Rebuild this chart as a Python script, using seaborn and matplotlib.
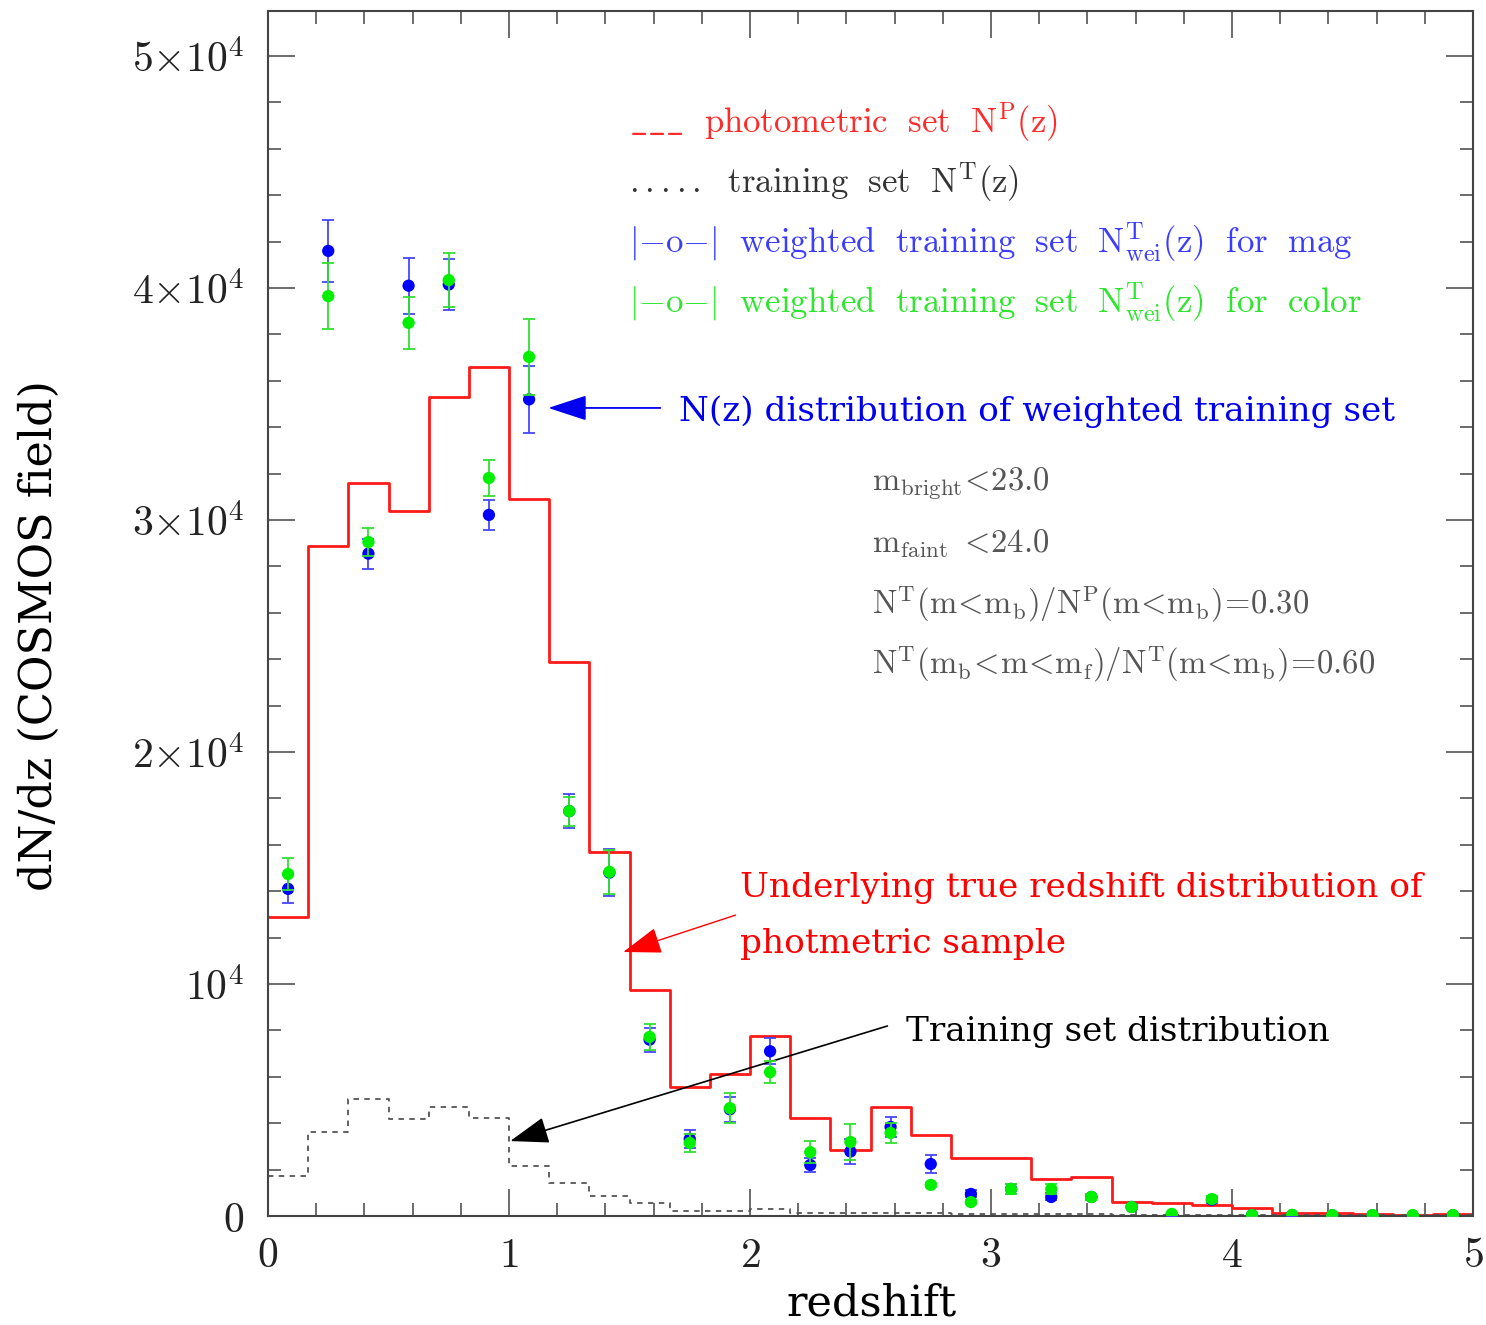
import numpy as np
import pandas as pd
import matplotlib
matplotlib.use("Agg")
import matplotlib.pyplot as plt
from matplotlib.ticker import MultipleLocator, FixedLocator, FixedFormatter
import seaborn as sns

# Redshift binning: 30 bins of width 1/6 between z = 0 and z = 5
z_edges = np.linspace(0.0, 5.0, 31)

# Photometric sample N^P(z)
n_phot = [12900, 28900, 31600, 30400, 35300, 36600, 30900, 23900, 15700, 9740,
          5580, 6140, 7780, 4220, 2840, 4700, 3500, 2500, 2500, 1580,
          1680, 600, 560, 470, 340, 150, 120, 90, 30, 90]

# Training set N^T(z)
n_train = [1720, 3620, 5040, 4180, 4700, 4220, 2150, 1420, 880, 540,
           210, 210, 290, 150, 140, 130, 120, 100, 90, 80,
           70, 60, 60, 50, 50, 40, 40, 30, 30, 30]

# Weighted training set, weights from magnitudes
n_wei_mag = [14100, 41600, 28550, 40100, 40150, 30220, 35200, 17450, 14800, 7600,
             3320, 4600, 7100, 2200, 2780, 3840, 2240, 950, 1170, 820,
             820, 390, 50, 700, 40, 40, 30, 30, 20, 30]
err_wei_mag = [600, 1350, 650, 1200, 1100, 650, 1450, 720, 1020, 520,
               400, 530, 560, 320, 540, 430, 370, 150, 230, 150,
               130, 80, 30, 130, 20, 20, 20, 20, 20, 20]

# Weighted training set, weights from colours
n_wei_color = [14740, 39650, 29050, 38500, 40340, 31810, 37030, 17450, 14830, 7720,
               3150, 4650, 6200, 2750, 3190, 3580, 1340, 600, 1160, 1160,
               820, 390, 90, 730, 40, 50, 40, 40, 40, 40]
err_wei_color = [690, 1420, 600, 1120, 1150, 760, 1640, 620, 930, 560,
                 400, 650, 480, 470, 780, 430, 100, 100, 230, 230,
                 130, 80, 30, 130, 20, 20, 20, 20, 20, 20]

y_tick_values = [0, 10000, 20000, 30000, 40000, 50000]
y_tick_labels = [r"$0$", r"$10^{4}$", r"$2{\times}10^{4}$", r"$3{\times}10^{4}$",
                 r"$4{\times}10^{4}$", r"$5{\times}10^{4}$"]
x_tick_values = [0, 1, 2, 3, 4, 5]
x_tick_labels = [r"$0$", r"$1$", r"$2$", r"$3$", r"$4$", r"$5$"]

z_mid = 0.5 * (z_edges[:-1] + z_edges[1:])
df = pd.DataFrame({
    "z": z_mid,
    "phot": n_phot,
    "train": n_train,
    "mag": n_wei_mag,
    "mag_err": err_wei_mag,
    "color": n_wei_color,
    "color_err": err_wei_color,
})

sns.set_style("ticks")
plt.rcParams["font.family"] = ["DejaVu Serif"]
plt.rcParams["mathtext.fontset"] = "cm"

W, H = 1486, 1325
fig = plt.figure(figsize=(W / 100, H / 100), dpi=100)
ax = fig.add_axes([268 / W, 109 / H, 1205 / W, 1205 / H])


def fpos(x, y):
    """Pixel position (from top-left) to figure fraction."""
    return x / W, 1 - y / H


bin_list = z_edges.tolist()

# Step histograms
sns.histplot(data=df, x="z", weights="phot", bins=bin_list, element="step",
             fill=False, color="#ff1a1a", linewidth=2.0, ax=ax)
sns.histplot(data=df, x="z", weights="train", bins=bin_list, element="step",
             fill=False, color="#555555", linewidth=1.3, linestyle=(0, (3, 3)), ax=ax)

# Weighted training sets with error bars
ax.errorbar(df["z"], df["mag"], yerr=df["mag_err"], fmt="none", ecolor="#4646ff",
            elinewidth=1.3, capsize=4.5, capthick=1.3, zorder=3)
sns.scatterplot(data=df, x="z", y="mag", color="#0000ff", s=78, edgecolor="none",
                zorder=4, ax=ax)
ax.errorbar(df["z"], df["color"], yerr=df["color_err"], fmt="none", ecolor="#30e030",
            elinewidth=1.3, capsize=4.5, capthick=1.3, zorder=5)
sns.scatterplot(data=df, x="z", y="color", color="#00f000", s=78, edgecolor="none",
                zorder=6, ax=ax)

# Axes, ticks and frame
ax.set_xlim(0, 5)
ax.set_ylim(0, 51940)
ax.set_xlabel("")
ax.set_ylabel("")
ax.xaxis.set_major_locator(FixedLocator(x_tick_values))
ax.xaxis.set_major_formatter(FixedFormatter(x_tick_labels))
ax.xaxis.set_minor_locator(MultipleLocator(0.2))
ax.yaxis.set_major_locator(FixedLocator(y_tick_values))
ax.yaxis.set_major_formatter(FixedFormatter(y_tick_labels))
ax.yaxis.set_minor_locator(MultipleLocator(2000))
ax.tick_params(which="both", direction="in", top=True, right=True,
               color="#444444", width=1.1, labelcolor="#222222")
ax.tick_params(which="major", length=19.5, labelsize=30)
ax.tick_params(axis="x", which="major", pad=13)
ax.tick_params(axis="y", which="major", pad=17)
ax.tick_params(which="minor", length=9.5)
for side in ax.spines.values():
    side.set_color("#444444")
    side.set_linewidth(1.5)
    side.set_visible(True)

fig.text(*fpos(872, 1315), "redshift", ha="center", va="baseline",
         fontsize=31, color="black")
fig.text(*fpos(39, 636), "dN/dz (COSMOS field)", ha="center", va="center",
         rotation=90, fontsize=32, color="black")

# Legend written as coloured text lines
legend_lines = [
    (r"$\mathrm{\_\_\_\ \ photometric\ \ set\ \ N^{P}(z)}$", "#ff2a2a", 122),
    (r"$\mathrm{.....\ \ training\ \ set\ \ N^{T}(z)}$", "#333333", 182),
    (r"$\mathrm{|{-}o{-}|\ \ weighted\ \ training\ \ set\ \ N^{T}_{wei}(z)\ \ for\ \ mag}$", "#3c3cff", 242),
    (r"$\mathrm{|{-}o{-}|\ \ weighted\ \ training\ \ set\ \ N^{T}_{wei}(z)\ \ for\ \ color}$", "#2ee62e", 302),
]
for txt, col, ypix in legend_lines:
    fig.text(*fpos(629, ypix), txt, ha="left", va="center", fontsize=25, color=col)

# Selection parameters
stats_lines = [
    (r"$\mathrm{m_{bright}\!<\!23.0}$", 484),
    (r"$\mathrm{m_{faint}\ \,\!<\!24.0}$", 544),
    (r"$\mathrm{N^{T}(m\!<\!m_{b})/N^{P}(m\!<\!m_{b})\!=\!0.30}$", 604),
    (r"$\mathrm{N^{T}(m_{b}\!<\!m\!<\!m_{f})/N^{T}(m\!<\!m_{b})\!=\!0.60}$", 664),
]
for txt, ypix in stats_lines:
    fig.text(*fpos(872, ypix), txt, ha="left", va="center", fontsize=23.5, color="#555555")

# Annotations with arrows
fig.text(*fpos(679, 412), "N(z) distribution of weighted training set", ha="left",
         va="center", fontsize=24.7, color="#0000ee")
ax.annotate("", xy=(1.163, 34830), xytext=(1.628, 34830),
            arrowprops=dict(arrowstyle="-|>,head_length=1.1,head_width=0.36",
                            mutation_scale=22, color="#0000ee", lw=1.3,
                            shrinkA=0, shrinkB=0))

fig.text(*fpos(740, 888), "Underlying true redshift distribution of", ha="left",
         va="center", fontsize=24.7, color="#ff0000")
fig.text(*fpos(740, 944), "photmetric sample", ha="left",
         va="center", fontsize=24.7, color="#ff0000")
ax.annotate("", xy=(1.474, 11380), xytext=(1.94, 12970),
            arrowprops=dict(arrowstyle="-|>,head_length=1.1,head_width=0.38",
                            mutation_scale=22, color="#ff0000", lw=1.0,
                            shrinkA=0, shrinkB=0))

fig.text(*fpos(906, 1032), "Training set distribution", ha="left",
         va="center", fontsize=24.7, color="black")
ax.annotate("", xy=(1.005, 3230), xytext=(2.57, 8190),
            arrowprops=dict(arrowstyle="-|>,head_length=1.1,head_width=0.38",
                            mutation_scale=22, color="black", lw=1.2,
                            shrinkA=0, shrinkB=0))

fig.savefig("out.png", dpi=100, facecolor="white")
